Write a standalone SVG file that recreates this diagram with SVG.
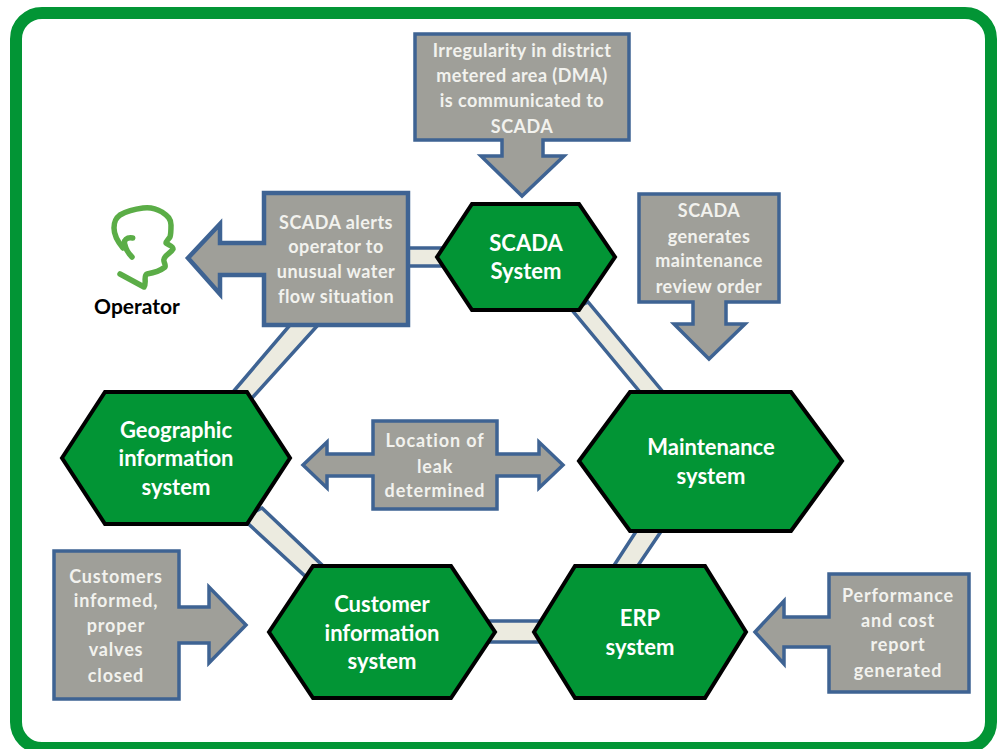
<svg xmlns="http://www.w3.org/2000/svg" width="997" height="749" viewBox="0 0 997 749">
<style>
.hex{fill:#029535;stroke:#000;stroke-width:4;stroke-linejoin:miter}
.box{fill:#9F9F99;stroke:#3E6393;stroke-width:3.5;stroke-linejoin:miter}
.link{fill:#ECEBE0;stroke:#3E6393;stroke-width:3.5}
text{font-family:Lato,"Open Sans","Liberation Sans",sans-serif;font-weight:700;text-anchor:middle}
.c{fill:#F2F2EE;font-size:18px;letter-spacing:.45px}
.w{letter-spacing:.85px}
.h{fill:#fff;font-size:22px}
</style>
<rect id="frame" x="16" y="13" width="975" height="735" rx="26" fill="#fff" stroke="#029535" stroke-width="12"/>
<g id="connectors">
<polygon class="link" points="400,248 450,248 450,266 400,266"/>
<polygon class="link" points="572,310 588,302 663,392 640,392"/>
<polygon class="link" points="290,325 318,325 252,398 233,392"/>
<polygon class="link" points="262,508 323,566 305,576 242,518"/>
<polygon class="link" points="637,530 662,530 637,567 613,567"/>
<polygon class="link" points="485,621 545,621 545,642 485,642"/>
</g>
<g id="scada-system"><polygon class="hex" points="437,257 472,204 579,204 615,257 579,310 472,310"/><text class="h" x="526" y="251">SCADA</text><text class="h" x="526" y="279">System</text></g>
<g id="geographic"><polygon class="hex" points="62,458 105,392 247,392 290,458 247,524 105,524"/><text class="h" x="176" y="438">Geographic</text><text class="h" x="176" y="466">information</text><text class="h" x="176" y="495">system</text></g>
<g id="maintenance"><polygon class="hex" points="579,461 630,392 791,392 842,461 791,531 630,531"/><text class="h" x="711" y="455">Maintenance</text><text class="h" x="711" y="484">system</text></g>
<g id="customer"><polygon class="hex" points="269,632 313,566 451,566 495,632 451,698 313,698"/><text class="h" x="382" y="612">Customer</text><text class="h" x="382" y="641">information</text><text class="h" x="382" y="669">system</text></g>
<g id="erp"><polygon class="hex" points="534,632 575,566 705,566 746,632 705,698 575,698"/><text class="h" x="640" y="626">ERP</text><text class="h" x="640" y="655">system</text></g>
<g id="callout-dma"><path class="box" d="M415,34H629V140H543V156H564L522,196L481,156H502V140H415Z"/><text class="c" x="522" y="57">Irregularity in district</text><text class="c" x="522" y="82">metered area (DMA)</text><text class="c" x="522" y="107">is communicated to</text><text class="c" x="522" y="133">SCADA</text></g>
<g id="callout-maintenance"><path class="box" d="M639,194H779V302H726V324H745L709,359L674,324H693V302H639Z"/><text class="c" x="709" y="217">SCADA</text><text class="c" x="709" y="243">generates</text><text class="c" x="709" y="267">maintenance</text><text class="c" x="709" y="293">review order</text></g>
<g id="callout-alert"><path class="box" style="stroke-width:4.5" d="M264,193H408V325H264V275H220V294L188,258L220,224V243H264Z"/><text class="c" x="336" y="229">SCADA alerts</text><text class="c" x="336" y="253">operator to</text><text class="c" x="336" y="278">unusual water</text><text class="c" x="336" y="303">flow situation</text></g>
<g id="callout-location"><path class="box" d="M373,421H497V454H539V442L563,465L539,488V476H497V509H373V476H327V488L303,465L327,442V454H373Z"/><text class="c w" x="435" y="447">Location of</text><text class="c w" x="435" y="473">leak</text><text class="c w" x="435" y="497">determined</text></g>
<g id="callout-customers"><path class="box" d="M54,551H179V607H209V587L246,625L209,663V643H179V699H54Z"/><text class="c w" x="116" y="583">Customers</text><text class="c w" x="116" y="607">informed,</text><text class="c w" x="116" y="632">proper</text><text class="c w" x="116" y="656">valves</text><text class="c w" x="116" y="682">closed</text></g>
<g id="callout-performance"><path class="box" d="M829,574H969V692H829V647H784V664L755,632L784,601V617H829Z"/><text class="c w" x="898" y="602">Performance</text><text class="c w" x="898" y="627">and cost</text><text class="c w" x="898" y="651">report</text><text class="c w" x="898" y="677">generated</text></g>
<g id="operator"><path d="M132.700,238C127,237 123,240 125,245C126,250 129,254 132,257M123,248C118,242 114,235 114,228C114,221 116,218 120,215C127,211 135,209 143,208C150,207 157,209 162,212C168,216 171,219 171,225C171,230 171,234 170,237C168,240 166,241 166,243C168,245 173,246 173,249C171,253 165,255 164,259C163,262 166,264 165,267C160,271 153,273 147,274C143,276 147,283 144,287L120,274" fill="none" stroke="#5BAD47" stroke-width="5.500" stroke-linecap="round" stroke-linejoin="round"/><text x="137" y="314" font-size="21" fill="#000">Operator</text></g>
</svg>
